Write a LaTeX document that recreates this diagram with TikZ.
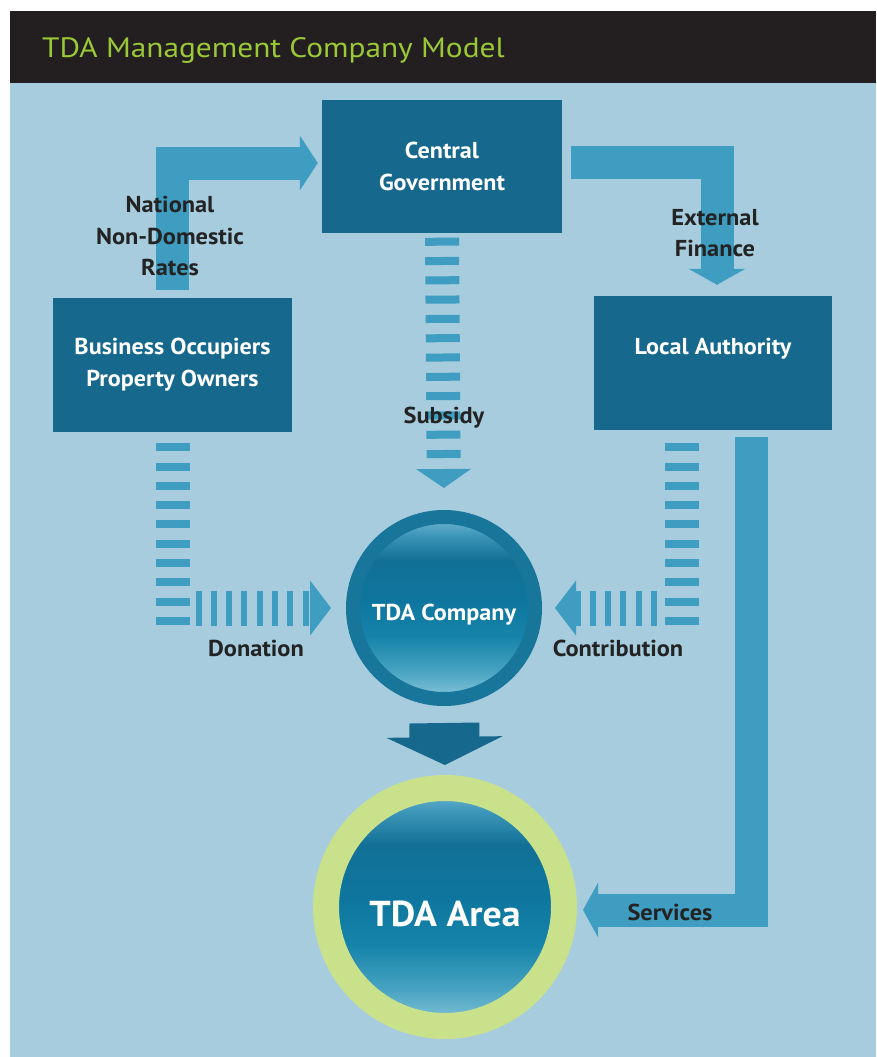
\documentclass[tikz,border=0pt]{standalone}
\usepackage{fontspec}
\setmainfont{PT Sans}
\newfontfamily\titlefont[FakeStretch=1.12]{PT Sans}
\newfontfamily\lblfont[FakeStretch=1.06]{PT Sans}
\newfontfamily\boxfont[FakeStretch=1.05]{PT Sans}
\usetikzlibrary{arrows.meta,shapes.geometric}
\definecolor{bgblue}{RGB}{166,204,222}
\definecolor{hdr}{RGB}{35,31,32}
\definecolor{titlegreen}{RGB}{155,200,55}
\definecolor{boxblue}{RGB}{22,104,140}
\definecolor{arrblue}{RGB}{62,157,192}
\definecolor{ringblue}{RGB}{24,118,155}
\definecolor{areagreen}{RGB}{202,225,140}
\definecolor{lblack}{RGB}{35,35,35}
\definecolor{sha}{RGB}{135,198,218}
\definecolor{shb}{RGB}{70,162,192}
\definecolor{shc}{RGB}{22,132,170}
\definecolor{shd}{RGB}{14,118,158}
\definecolor{she}{RGB}{18,112,150}
\definecolor{shf}{RGB}{60,150,185}
\definecolor{shg}{RGB}{118,184,210}
\pgfdeclareverticalshading{ballshade}{100bp}{color(0bp)=(sha); color(25bp)=(sha);
  color(33bp)=(shb); color(42bp)=(shc); color(52bp)=(shd); color(63bp)=(she);
  color(70bp)=(shf); color(75bp)=(shg); color(100bp)=(shg)}
\begin{document}
\begin{tikzpicture}[x=1pt,y=-1pt,
  box/.style={rectangle, fill=boxblue, text=white, inner sep=0pt,
    font=\boxfont\bfseries\fontsize{23}{32}\selectfont, align=center},
  lbl/.style={text=lblack, font=\lblfont\bfseries\fontsize{23}{31.5}\selectfont, align=center, inner sep=1pt},
  flow/.style={draw=arrblue, line width=33pt, line join=miter},
  dashv/.style={draw=arrblue, line width=34pt, dash pattern=on 8pt off 11.3pt},
  dashh/.style={draw=arrblue, line width=35pt, dash pattern=on 6pt off 9.3pt},
  ball/.style={circle, inner sep=0pt, text=white, shading=ballshade}
]
\useasboundingbox (0,0) rectangle (876,1057);
\fill[white] (0,0) rectangle (876,1057);
\fill[bgblue] (10,83) rectangle (876,1057);
\fill[hdr] (10,11) rectangle (876,83);
\node[anchor=base west, text=titlegreen, inner sep=0pt, font=\titlefont\fontsize{28}{34}\selectfont] (title) at (42,57) {TDA Management Company Model};

% boxes
\node[box, minimum width=240pt, minimum height=133pt] (cg) at (442,166) {Central\\Government};
\node[box, minimum width=239pt, minimum height=134pt] (bus) at (172.5,365) {Business Occupiers\\Property Owners};
\node[box, minimum width=238pt, minimum height=134pt] (la) at (713,363) {Local Authority\\[-8pt]\strut};

% circles
\node[ball, minimum size=182pt, draw=ringblue, line width=14pt, text height=30pt, text depth=6pt,
  font=\boxfont\bfseries\fontsize{23}{28}\selectfont] (comp) at (444,608) {TDA Company};
\node[ball, minimum size=238pt, draw=areagreen, line width=26pt, text height=38pt, text depth=0pt,
  font=\boxfont\bfseries\fontsize{36}{40}\selectfont] (area) at (445,907) {TDA Area};

% solid flows
\draw[flow, -{Triangle[width=54pt,length=18pt]}, shorten <=8pt, shorten >=4pt]
  (bus.north) |- ([yshift=3pt]cg.west);
\draw[flow, -{Triangle[width=56pt,length=16pt]}, shorten <=9pt, shorten >=11pt]
  ([yshift=4pt]cg.east) -| ([xshift=4pt]la.north);
\draw[flow, -{Triangle[width=54pt,length=15pt]}, shorten <=7pt, shorten >=6pt]
  ([xshift=38pt]la.south) |- ([yshift=-3pt]area.east);
\draw[draw=boxblue, line width=70pt, -{Triangle[width=115pt,length=28pt]}, shorten <=17pt, shorten >=10pt]
  (comp.south) -- (area.north);

% dashed flows
\draw[dashv, -{Triangle[width=54pt,length=19pt]}, shorten <=5pt, shorten >=22pt]
  (cg.south) -- (comp.north);
\coordinate (dl) at (bus.south |- comp.center);
\draw[dashv, shorten <=11pt] (bus.south) -- ([yshift=-17pt]dl);
\draw[dashh, -{Triangle[width=54pt,length=21pt]}, shorten >=15pt]
  ([xshift=23pt]dl) -- (comp.west);
\coordinate (lad) at ([xshift=-31pt]la.south);
\coordinate (dr) at (lad |- comp.center);
\draw[dashv, shorten <=13pt] (lad) -- ([yshift=-17pt]dr);
\draw[dashh, -{Triangle[width=54pt,length=21pt]}, shorten >=13pt]
  ([xshift=-25pt]dr) -- (comp.east);

% labels
\node[lbl] (natl) at (170,236) {National\\Non-Domestic\\Rates};
\node[lbl] (ext) at (715,233) {External\\Finance};
\node[lbl] (subs) at (444,418) {Subsidy};
\node[lbl] (don) at (256,648) {Donation};
\node[lbl] (contr) at (618,648) {Contribution};
\node[lbl] (serv) at (670,912) {Services};
\end{tikzpicture}
\end{document}
